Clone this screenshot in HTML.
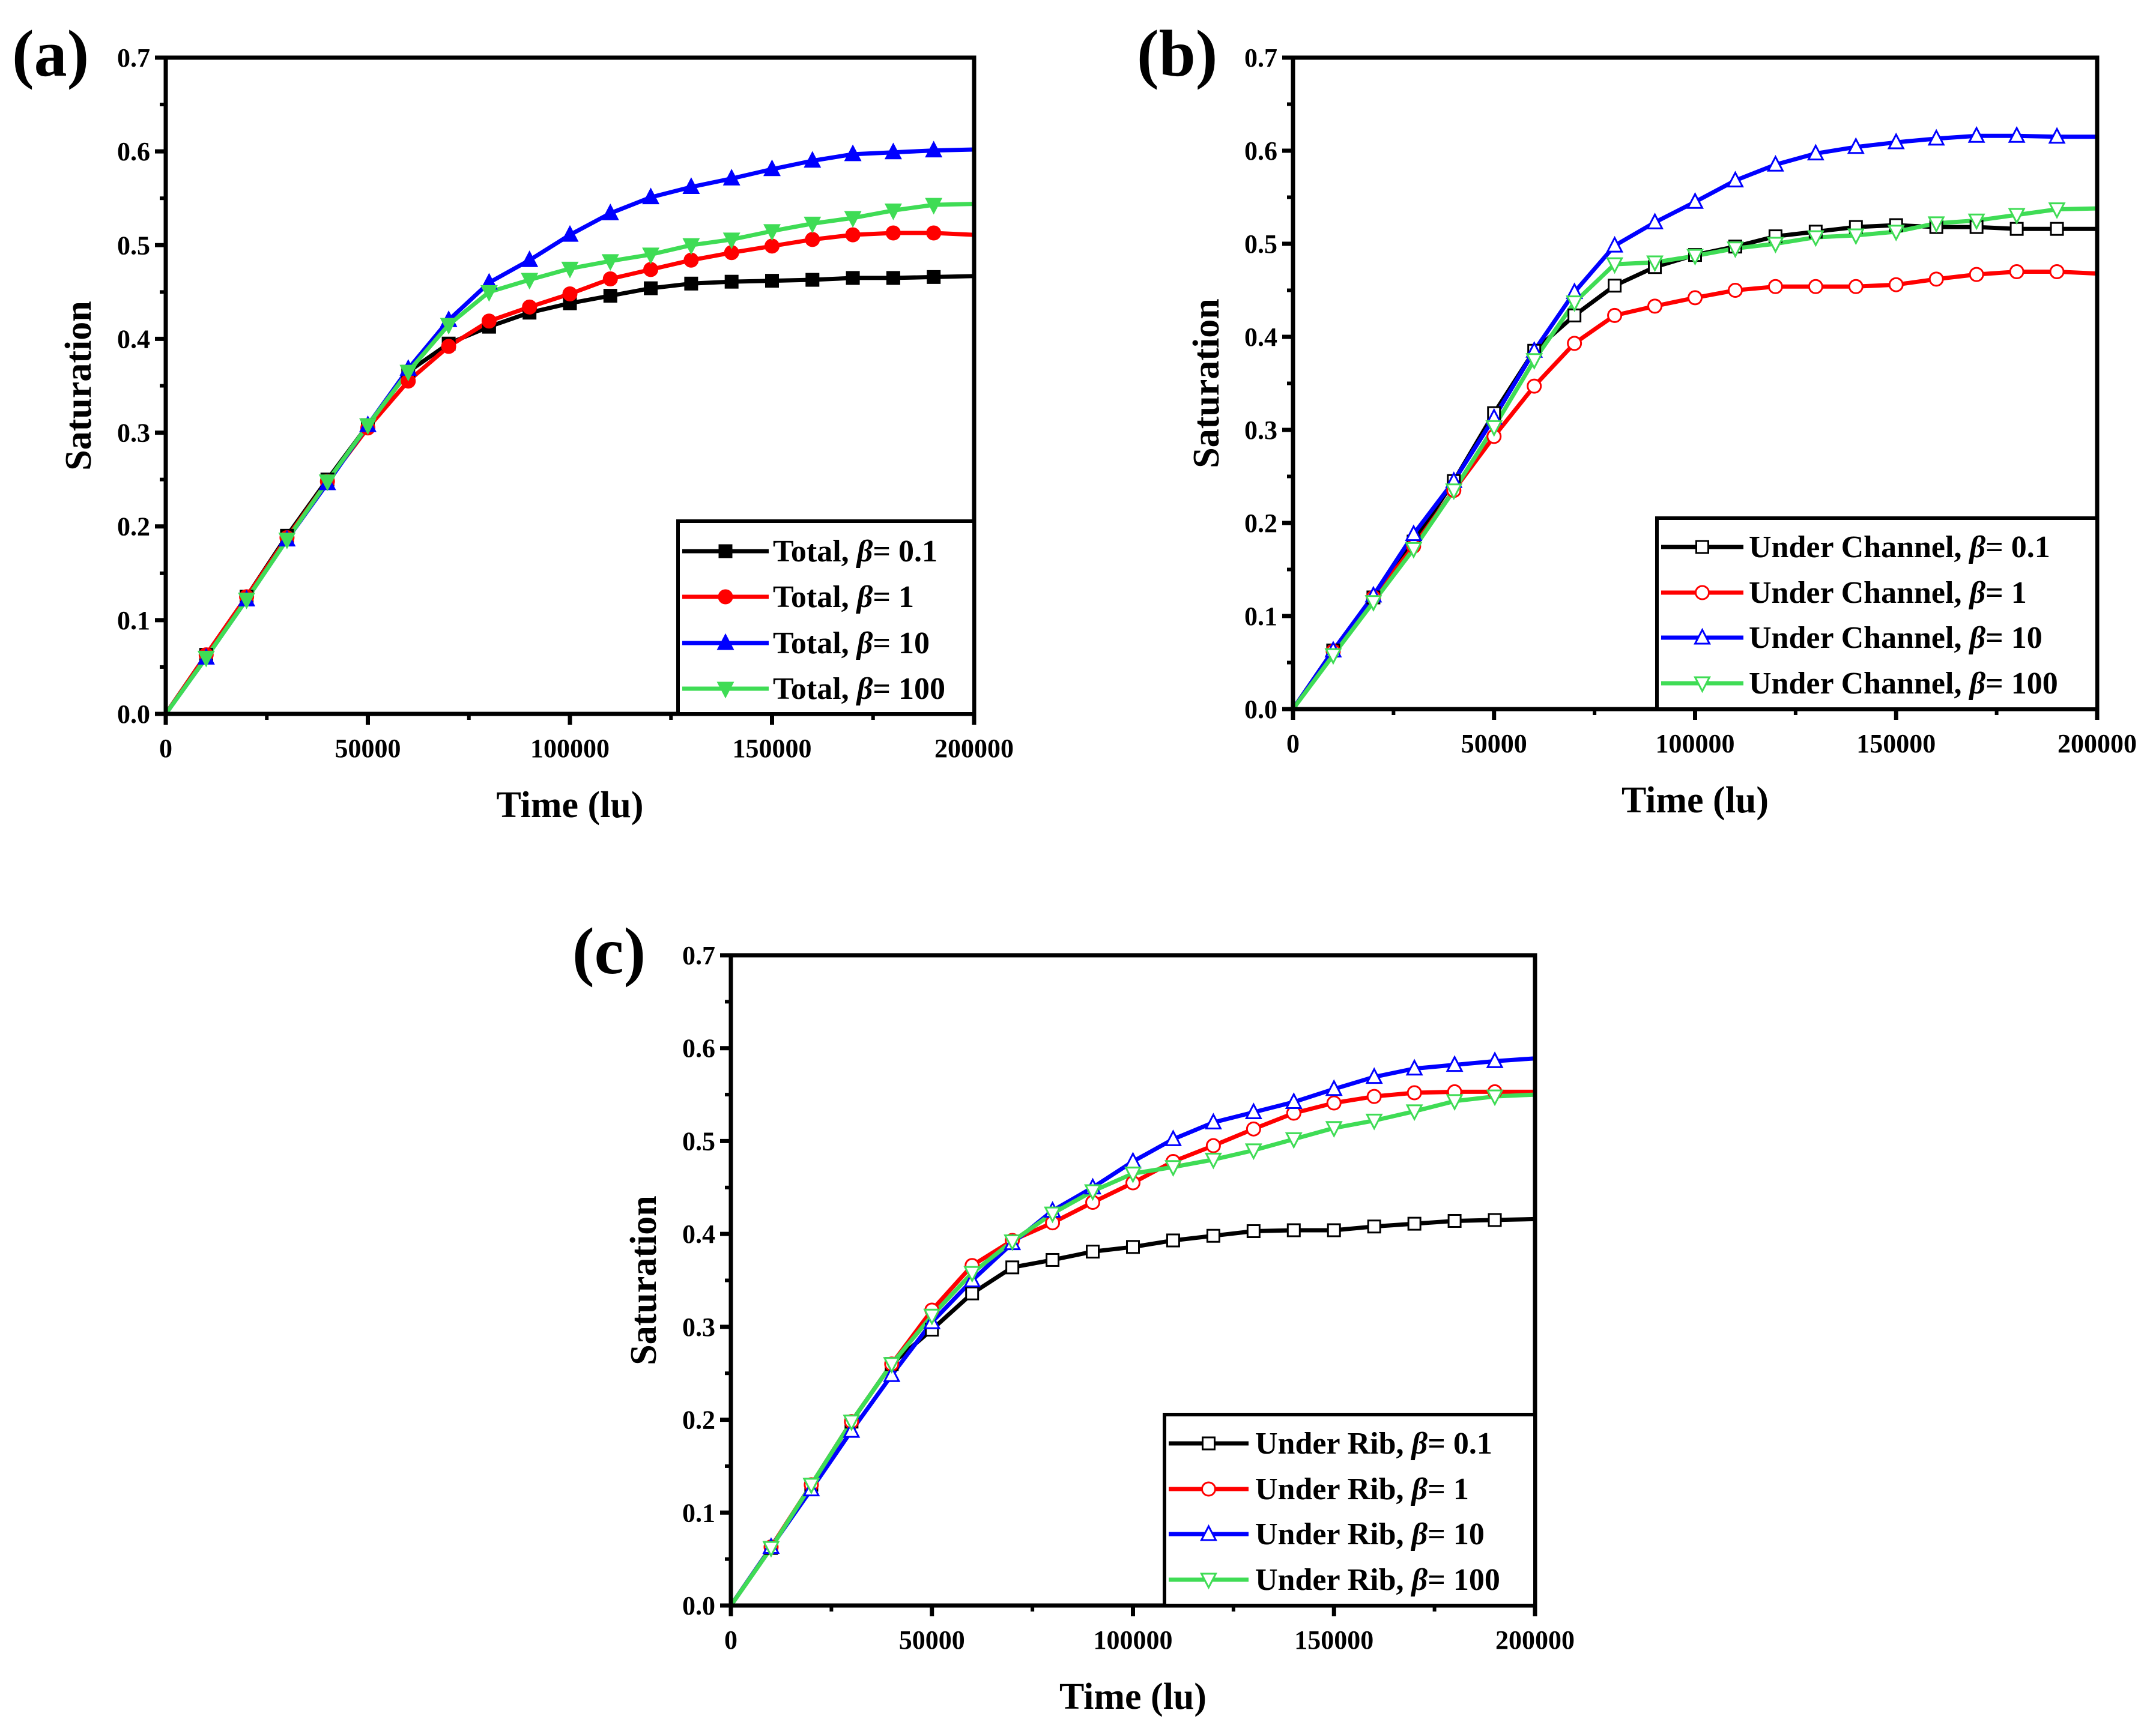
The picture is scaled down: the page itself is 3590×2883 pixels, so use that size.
<!DOCTYPE html>
<html><head><meta charset="utf-8"><style>
html,body{margin:0;padding:0;background:#fff;}
svg{display:block;}
text{font-family:"Liberation Serif","Times New Roman",serif;font-weight:bold;fill:#000;}
</style></head><body>
<svg id="chart" width="3590" height="2883" viewBox="0 0 3590 2883" xmlns="http://www.w3.org/2000/svg"></svg>
<script>
const times=[0,10000,20000,30000,40000,50000,60000,70000,80000,90000,100000,110000,120000,130000,140000,150000,160000,170000,180000,190000,200000];
const yTicks=[0,0.1,0.2,0.3,0.4,0.5,0.6,0.7];
const yTickLabels=["0.0","0.1","0.2","0.3","0.4","0.5","0.6","0.7"];
const xTicks=[0,50000,100000,150000,200000];
const xTickLabels=["0","50000","100000","150000","200000"];
const betaLabels=["0.1","1","10","100"];
const totalB01=[0,0.063,0.125,0.19,0.25,0.308,0.365,0.395,0.413,0.428,0.438,0.446,0.454,0.459,0.461,0.462,0.463,0.465,0.465,0.466,0.467];
const totalB1=[0,0.063,0.125,0.188,0.248,0.305,0.355,0.392,0.419,0.434,0.448,0.464,0.474,0.484,0.492,0.499,0.506,0.511,0.513,0.513,0.511];
const totalB10=[0,0.06,0.122,0.186,0.246,0.308,0.368,0.42,0.46,0.484,0.511,0.534,0.551,0.562,0.571,0.581,0.59,0.597,0.599,0.601,0.602];
const totalB100=[0,0.06,0.122,0.186,0.248,0.308,0.365,0.415,0.45,0.463,0.475,0.483,0.49,0.5,0.506,0.515,0.523,0.529,0.537,0.543,0.544];
const chanB01=[0,0.063,0.12,0.18,0.245,0.318,0.385,0.423,0.455,0.475,0.488,0.497,0.508,0.513,0.518,0.52,0.518,0.518,0.516,0.516,0.516];
const chanB1=[0,0.062,0.12,0.175,0.235,0.293,0.347,0.393,0.423,0.433,0.442,0.45,0.454,0.454,0.454,0.456,0.462,0.467,0.47,0.47,0.468];
const chanB10=[0,0.063,0.122,0.188,0.245,0.313,0.385,0.448,0.498,0.523,0.545,0.568,0.585,0.597,0.604,0.609,0.613,0.616,0.616,0.615,0.615];
const chanB100=[0,0.058,0.115,0.172,0.235,0.303,0.375,0.437,0.478,0.48,0.487,0.495,0.5,0.507,0.509,0.513,0.522,0.525,0.531,0.537,0.538];
const ribB01=[0,0.062,0.13,0.198,0.26,0.297,0.336,0.364,0.372,0.381,0.386,0.393,0.398,0.403,0.404,0.404,0.408,0.411,0.414,0.415,0.416];
const ribB1=[0,0.063,0.13,0.198,0.26,0.318,0.366,0.393,0.412,0.434,0.455,0.478,0.495,0.513,0.53,0.541,0.548,0.552,0.553,0.553,0.553];
const ribB10=[0,0.063,0.125,0.188,0.248,0.305,0.35,0.39,0.425,0.45,0.478,0.502,0.52,0.531,0.542,0.556,0.569,0.578,0.582,0.586,0.589];
const ribB100=[0,0.062,0.13,0.198,0.26,0.312,0.358,0.392,0.422,0.446,0.465,0.472,0.48,0.49,0.502,0.514,0.522,0.532,0.543,0.548,0.55];

const NS="http://www.w3.org/2000/svg";
const svg=document.getElementById('chart');
const colors=["#000000","#ff0000","#0000ff","#3fdc55"];
const shapes=["square","circle","up","down"];

function mk(tag,attrs,parent){const e=document.createElementNS(NS,tag);for(const k in attrs)e.setAttribute(k,attrs[k]);parent.appendChild(e);return e;}

function marker(g,shape,cx,cy,color,filled){
  const fill=filled?color:"#fff";const s=10;let m;
  if(shape==="square")m=mk('rect',{x:cx-s,y:cy-s,width:2*s,height:2*s,fill:fill,stroke:filled?color:"#000",'stroke-width':3},g);
  else if(shape==="circle")m=mk('circle',{cx:cx,cy:cy,r:s+1,fill:fill,stroke:color,'stroke-width':3},g);
  else if(shape==="up")m=mk('polygon',{points:`${cx},${cy-s-3} ${cx+s+2},${cy+s} ${cx-s-2},${cy+s}`,fill:fill,stroke:color,'stroke-width':3},g);
  else m=mk('polygon',{points:`${cx},${cy+s+3} ${cx+s+2},${cy-s} ${cx-s-2},${cy-s}`,fill:fill,stroke:color,'stroke-width':3},g);
  
  
}

function panel(cfg){
  const g=mk('g',{},svg);
  
  
  const X=v=>cfg.x0+(v/200000)*(cfg.x1-cfg.x0);
  const Y=v=>cfg.y1-(v/0.7)*(cfg.y1-cfg.y0);
  cfg.series.forEach((d,i)=>{
    const sg=mk('g',{},g);
    
    
    const pts=d.map((v,j)=>X(times[j])+','+Y(v)).join(' ');
    const pl=mk('polyline',{points:pts,fill:'none',stroke:colors[i],'stroke-width':7,'stroke-linejoin':'round'},sg);
    
    
  });
  cfg.series.forEach((d,i)=>{
    const sg=mk('g',{},g);
    
    
    for(let j=1;j<d.length-1;j++)marker(sg,shapes[i],X(times[j]),Y(d[j]),colors[i],cfg.filled);
  });
  const fr=mk('rect',{x:cfg.x0,y:cfg.y0,width:cfg.x1-cfg.x0,height:cfg.y1-cfg.y0,fill:'none',stroke:'#000','stroke-width':7},g);
  
  
  yTicks.forEach((v,i)=>{
    const y=Y(v);
    mk('line',{x1:cfg.x0-18,x2:cfg.x0,y1:y,y2:y,stroke:'#000','stroke-width':7},g);
    if(i<yTicks.length-1){const ym=Y(v+0.05);mk('line',{x1:cfg.x0-10,x2:cfg.x0,y1:ym,y2:ym,stroke:'#000','stroke-width':6},g);}
    const t=mk('text',{x:cfg.x0-26,y:y+15,'text-anchor':'end','font-size':44},g);
    t.textContent=yTickLabels[i];
    
    
  });
  xTicks.forEach((v,i)=>{
    const x=X(v);
    mk('line',{x1:x,x2:x,y1:cfg.y1,y2:cfg.y1+18,stroke:'#000','stroke-width':7},g);
    if(i<xTicks.length-1){const xm=X(v+25000);mk('line',{x1:xm,x2:xm,y1:cfg.y1,y2:cfg.y1+10,stroke:'#000','stroke-width':6},g);}
    const t=mk('text',{x:x,y:cfg.y1+72,'text-anchor':'middle','font-size':44},g);
    t.textContent=xTickLabels[i];
    
    
  });
  const xt=mk('text',{x:(cfg.x0+cfg.x1)/2,y:cfg.y1+172,'text-anchor':'middle','font-size':62},g);
  xt.textContent='Time (lu)';
  
  
  const yc=(cfg.y0+cfg.y1)/2;
  const yt=mk('text',{x:cfg.ytx,y:yc,'text-anchor':'middle','font-size':62,transform:`rotate(-90 ${cfg.ytx} ${yc})`,'dominant-baseline':'middle'},g);
  yt.textContent='Saturation';
  
  
  const pl=mk('text',{x:cfg.lx,y:cfg.ly,'font-size':110},g);
  pl.textContent='('+cfg.id+')';
  
  
  const L=cfg.leg;
  const lg=mk('g',{},g);
  
  
  mk('rect',{x:L.x0,y:L.y0,width:cfg.x1-L.x0,height:cfg.y1-L.y0,fill:'#fff',stroke:'#000','stroke-width':6},lg);
  betaLabels.forEach((b,i)=>{
    const y=L.ys[i];
    const eg=mk('g',{},lg);
    
    
    mk('line',{x1:L.lx0,x2:L.lx1,y1:y,y2:y,stroke:colors[i],'stroke-width':7},eg);
    marker(eg,shapes[i],(L.lx0+L.lx1)/2,y,colors[i],cfg.filled);
    const t=mk('text',{x:L.tx,y:y+17,'font-size':52},eg);
    t.innerHTML=cfg.prefix+', <tspan font-style="italic">β</tspan>= '+b;
  });
}

panel({id:'a',x0:276,x1:1622,y0:96,y1:1189,ytx:137,lx:20,ly:126,filled:true,prefix:'Total',
  series:[totalB01,totalB1,totalB10,totalB100],
  leg:{x0:1129,y0:868,ys:[918,994,1071,1147],lx0:1136,lx1:1280,tx:1287}});
panel({id:'b',x0:2153,x1:3492,y0:96,y1:1181,ytx:2015,lx:1893,ly:126,filled:false,prefix:'Under Channel',
  series:[chanB01,chanB1,chanB10,chanB100],
  leg:{x0:2759,y0:863,ys:[911,987,1062,1138],lx0:2766,lx1:2903,tx:2912}});
panel({id:'c',x0:1217,x1:2556,y0:1591,y1:2674,ytx:1078,lx:953,ly:1621,filled:false,prefix:'Under Rib',
  series:[ribB01,ribB1,ribB10,ribB100],
  leg:{x0:1939,y0:2356,ys:[2404,2480,2555,2631],lx0:1946,lx1:2079,tx:2090}});
</script>
</body></html>
